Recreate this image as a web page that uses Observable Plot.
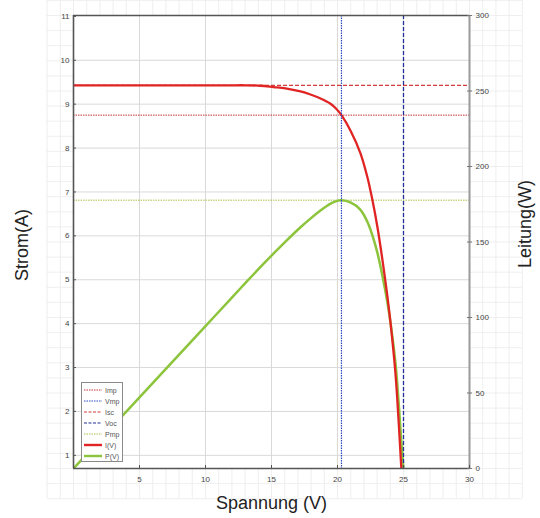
<!DOCTYPE html>
<html>
<head>
<meta charset="utf-8">
<script src="https://cdn.jsdelivr.net/npm/d3@7"></script>
<script src="https://cdn.jsdelivr.net/npm/@observablehq/plot@0.6"></script>
<style>
  html, body { margin: 0; padding: 0; background: #fff; }
  #wrap { position: relative; width: 540px; height: 518px; }
  #legend { position: absolute; left: 81px; top: 382px; width: 42px; height: 80px;
    border: 1.5px solid #8a8a8a; background: #fff; box-sizing: border-box; }
</style>
</head>
<body>
<div id="wrap"><div id="chart"></div><div id="legend"></div></div>
<script>
// Data
const voltage = [0, 2, 4, 6, 8, 10, 12, 13.03, 14.17, 15.15, 16.06, 17.2, 17.95, 18.71, 19.47, 19.92, 20.3, 20.98, 21.74, 22.27, 22.65, 23.03, 23.41, 23.79, 24.02, 24.39, 24.64, 24.83, 25.0];
const current = [9.43, 9.43, 9.43, 9.43, 9.43, 9.43, 9.43, 9.43, 9.42, 9.39, 9.36, 9.29, 9.22, 9.13, 9.01, 8.89, 8.75, 8.40, 7.88, 7.33, 6.81, 6.19, 5.44, 4.60, 4.01, 2.87, 1.73, 0.73, 0];
const power = [0, 18.9, 37.7, 56.6, 75.4, 94.3, 113.2, 122.9, 133.5, 142.3, 150.3, 159.8, 165.5, 170.8, 175.4, 177.1, 177.6, 176.2, 171.3, 163.2, 154.2, 142.6, 127.3, 109.4, 96.3, 70.0, 42.6, 18.1, 0];

const Imp = 8.75, Vmp = 20.3, Isc = 9.43, Voc = 25.0, Pmp = 177.7;

const xTicks = [5, 10, 15, 20, 25, 30];
const yTicks = [1, 2, 3, 4, 5, 6, 7, 8, 9, 10, 11];
const pTicks = [0, 50, 100, 150, 200, 250, 300];

const legendItems = [
  {label: "Imp", color: "#c8323a", dash: "1.5,1", width: 1},
  {label: "Vmp", color: "#2a48c8", dash: "1.5,1", width: 1},
  {label: "Isc", color: "#d43a3a", dash: "3,1.5", width: 1.2},
  {label: "Voc", color: "#23309a", dash: "3,1.5", width: 1.2},
  {label: "Pmp", color: "#a8c24a", dash: "1.5,1", width: 1},
  {label: "I(V)", color: "#e02424", dash: null, width: 2.4},
  {label: "P(V)", color: "#8cc43c", dash: null, width: 2.4}
];

const yMin = 0.70, yMax = 11.02;
const pMax = 300;
const toY = p => yMin + p / pMax * (yMax - yMin);
const pxY = 453 / (yMax - yMin);   // pixels per ampere
const pxX = 396 / 30;              // pixels per volt

const ivData = voltage.map((v, i) => ({v, i: current[i]}));
const pvData = voltage.map((v, i) => ({v, p: toY(power[i])}));

// faint background grid in the margins
const bgV = d3.range(-2, 35, 1);
const bgP = d3.range(-20, 311, 10);

const font = "'Liberation Sans', Arial, sans-serif";
const lblStyle = "letter-spacing:0.8px";

const chart = Plot.plot({
  width: 540,
  height: 518,
  marginLeft: 73,
  marginRight: 71,
  marginTop: 15,
  marginBottom: 50,
  style: {fontFamily: font, fontSize: "8px", color: "#333", background: "#fff", overflow: "visible"},
  x: {type: "linear", domain: [0, 30], axis: null},
  y: {type: "linear", domain: [yMin, yMax], axis: null},
  marks: [
    // background faint grid (outside frame)
    Plot.ruleX(bgV, {x: d => d, y1: () => toY(-20), y2: () => toY(310), stroke: "#ebebeb", strokeWidth: 0.8}),
    Plot.ruleY(bgP, {y: d => toY(d), x1: () => -2, x2: () => 34, stroke: "#ebebeb", strokeWidth: 0.8}),
    Plot.frame({fill: "#fff", stroke: null}),
    // major grid
    Plot.ruleX([5, 10, 15, 20, 25], {x: d => d, stroke: "#d9d9d9", strokeWidth: 1}),
    Plot.ruleY(yTicks.filter(d => d < 11), {y: d => d, stroke: "#d9d9d9", strokeWidth: 1}),
    // reference lines
    Plot.ruleY([Imp], {y: d => d, stroke: "#c8323a", strokeWidth: 1, strokeDasharray: "1.5,1"}),
    Plot.ruleY([Isc], {y: d => d, stroke: "#d43a3a", strokeWidth: 1.2, strokeDasharray: "4,2"}),
    Plot.ruleY([Pmp], {y: d => toY(d), stroke: "#a8c24a", strokeWidth: 1, strokeDasharray: "1.5,1"}),
    // curves
    Plot.line(pvData, {x: "v", y: "p", stroke: "#8cc43c", strokeWidth: 2.5, curve: "catmull-rom", clip: true}),
    Plot.line(ivData, {x: "v", y: "i", stroke: "#e02424", strokeWidth: 2.3, curve: "catmull-rom", clip: true}),
    Plot.ruleX([Vmp], {x: d => d, stroke: "#2a48c8", strokeWidth: 1.2, strokeDasharray: "1.5,1"}),
    Plot.ruleX([Voc], {x: d => d, stroke: "#23309a", strokeWidth: 1.3, strokeDasharray: "4,2"}),
    // frame lines
    Plot.ruleX([30], {x: d => d, stroke: "#9a9a9a", strokeWidth: 2}),
    Plot.ruleX([0], {x: d => d, stroke: "#555", strokeWidth: 1.6}),
    Plot.ruleY([yMin], {y: d => d, stroke: "#555", strokeWidth: 1.6}),
    Plot.ruleY([yMax], {y: d => d, stroke: "#555", strokeWidth: 1.6}),
    // x axis ticks (inward) and labels
    Plot.ruleX(xTicks, {x: d => d, y1: () => yMin, y2: () => yMin + 3 / pxY, stroke: "#555", strokeWidth: 1}),
    Plot.text(xTicks, {x: d => d, y: () => yMin, dy: 11, text: d => String(d), fontSize: 8, fill: "#444", style: lblStyle}),
    // left y axis ticks and labels
    Plot.ruleY(yTicks, {y: d => d, x1: () => 0, x2: () => 3 / pxX, stroke: "#555", strokeWidth: 1}),
    Plot.text(yTicks, {x: () => 0, y: d => d, dx: -4, text: d => String(d), textAnchor: "end", fontSize: 8, fill: "#444", style: lblStyle}),
    // right y axis (power) ticks and labels
    Plot.ruleY(pTicks, {y: d => toY(d), x1: () => 30 - 2 / pxX, x2: () => 30 + 3 / pxX, stroke: "#777", strokeWidth: 1}),
    Plot.text(pTicks, {x: () => 30, y: d => toY(d), dx: 6, text: d => String(d), textAnchor: "start", fontSize: 8, fill: "#444", style: lblStyle}),
    // axis titles
    Plot.text(["Spannung (V)"], {frameAnchor: "bottom", dy: 40, text: d => d, fontSize: 18, fill: "#222"}),
    Plot.text(["Strom(A)"], {frameAnchor: "left", dx: -51, dy: 3, rotate: -90, textAnchor: "middle", text: d => d, fontSize: 18, fill: "#222"}),
    Plot.text(["Leitung(W)"], {frameAnchor: "right", dx: 56, dy: -18, rotate: -90, textAnchor: "middle", text: d => d, fontSize: 18, fill: "#222"})
  ]
});
document.getElementById("chart").appendChild(chart);

// legend
const lg = d3.select("#legend").append("svg").attr("width", 40).attr("height", 78)
  .style("font-family", font).style("font-size", "7px");
legendItems.forEach((d, k) => {
  const y = 7 + k * 11;
  lg.append("line").attr("x1", 2).attr("x2", 20).attr("y1", y).attr("y2", y)
    .attr("stroke", d.color).attr("stroke-width", d.width)
    .attr("stroke-dasharray", d.dash);
  lg.append("text").attr("x", 23).attr("y", y + 2.5).attr("fill", "#555").text(d.label);
});
</script>
</body>
</html>
